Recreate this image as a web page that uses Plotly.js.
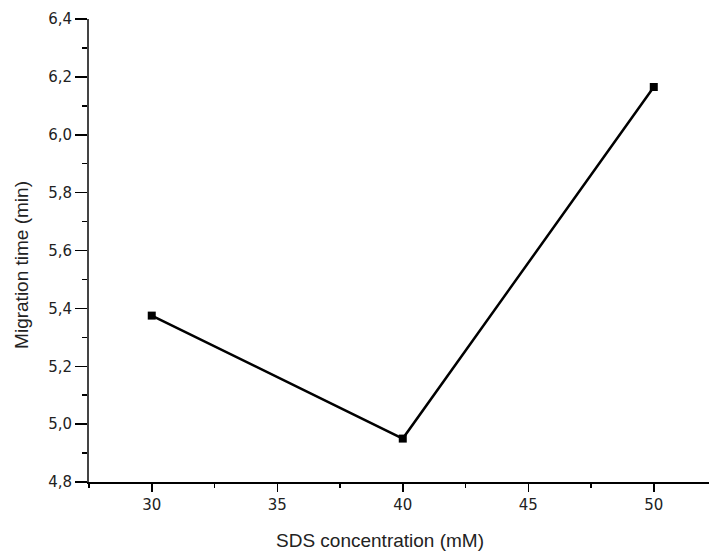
<!DOCTYPE html>
<html><head><meta charset="utf-8">
<script src="https://cdn.plot.ly/plotly-3.0.1.min.js"></script>
<style>html,body{margin:0;padding:0;background:#fff;overflow:hidden}</style>
</head><body><div id="chart" style="width:709px;height:554px"></div>
<script>
const sdsConc = [30, 40, 50];
const migrationTime = [5.375, 4.95, 6.165];
const xTickVals = [30, 35, 40, 45, 50];
const yTickVals = [4.8, 5.0, 5.2, 5.4, 5.6, 5.8, 6.0, 6.2, 6.4];
const xTitle = 'SDS concentration (mM)';
const yTitle = 'Migration time (min)';

const trace = {
  x: sdsConc, y: migrationTime, type: 'scatter', mode: 'lines+markers',
  line: {color: '#000', width: 2.5},
  marker: {symbol: 'square', size: 8, color: '#000'},
  showlegend: false
};
const tickFont = {family: 'DejaVu Sans, sans-serif', size: 15, color: '#222'};
const layout = {
  width: 709, height: 554,
  margin: {l: 89, r: 0, t: 19, b: 72},
  paper_bgcolor: '#fff', plot_bgcolor: '#fff',
  separators: ', ',
  font: {family: 'Liberation Sans, Arial, sans-serif', color: '#222', size: 14},
  xaxis: {
    range: [27.5, 52.2], showgrid: false, zeroline: false,
    showline: true, linecolor: '#000', linewidth: 2,
    tickmode: 'array', tickvals: xTickVals, ticktext: xTickVals.map(String),
    ticks: 'outside', ticklen: 8, tickwidth: 1.5, tickcolor: '#000',
    minor: {tickvals: [27.5, 32.5, 37.5, 42.5, 47.5], ticks: 'outside', ticklen: 4, tickwidth: 1.5, tickcolor: '#000', showgrid: false},
    tickfont: tickFont
  },
  yaxis: {
    range: [4.8, 6.4], showgrid: false, zeroline: false,
    showline: true, linecolor: '#444', linewidth: 2,
    tickmode: 'array', tickvals: yTickVals, ticktext: yTickVals.map(v => v.toFixed(1).replace('.', ',')),
    ticks: 'outside', ticklen: 12, tickwidth: 1.5, tickcolor: '#000',
    minor: {tickvals: [4.9, 5.1, 5.3, 5.5, 5.7, 5.9, 6.1, 6.3], ticks: 'outside', ticklen: 5, tickwidth: 1.5, tickcolor: '#000', showgrid: false},
    tickfont: tickFont
  },
  annotations: [
    {text: xTitle, xref: 'paper', yref: 'paper', x: 0.469, y: -0.127, xanchor: 'center', yanchor: 'middle',
     showarrow: false, font: {size: 19, color: '#222'}},
    {text: yTitle, xref: 'paper', yref: 'paper', x: -0.108, y: 0.469, xanchor: 'center', yanchor: 'middle',
     textangle: -90, showarrow: false, font: {size: 19, color: '#222'}}
  ]
};
Plotly.newPlot('chart', [trace], layout, {displayModeBar: false, staticPlot: true});
</script></body></html>
